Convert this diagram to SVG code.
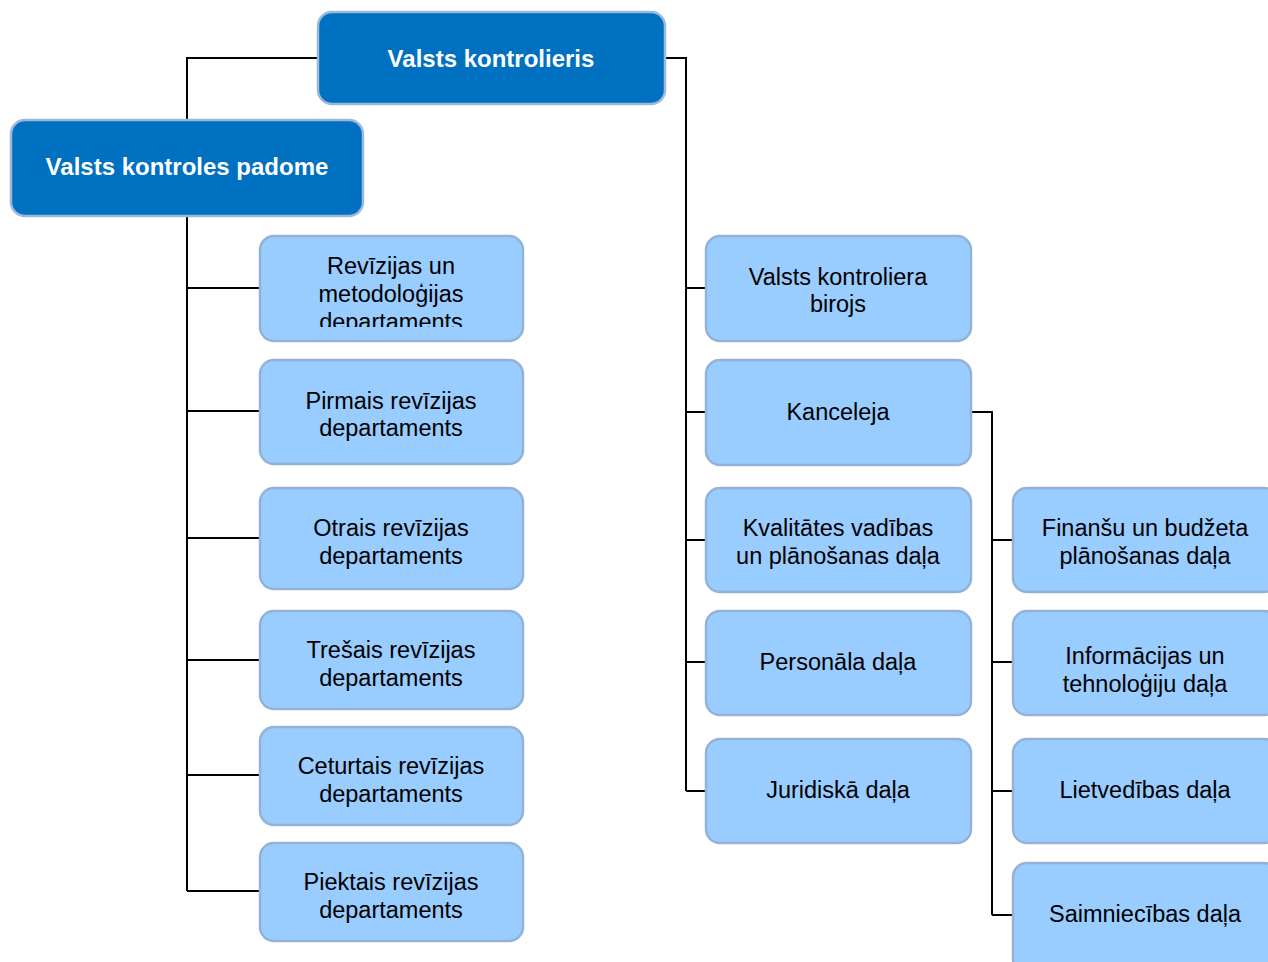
<svg xmlns="http://www.w3.org/2000/svg" width="1268" height="962" viewBox="0 0 1268 962">
<style>
.top{fill:#0070C0;stroke:#9DB8DA;stroke-width:2.5}
.box{fill:#99CCFF;stroke:#93B2D8;stroke-width:2.5}
.tt{font-family:"Liberation Sans",Arial,sans-serif;font-size:24px;font-weight:bold;fill:#FFFFFF;text-anchor:middle}
.t{font-family:"Liberation Sans",Arial,sans-serif;font-size:23.5px;fill:#000000;text-anchor:middle}
.c{fill:none;stroke:#000000;stroke-width:2}
</style>
<defs>
<clipPath id="clip1"><rect x="260" y="236" width="264" height="91"/></clipPath>
</defs>
<g id="connectors">
<path class="c" d="M318 58H187V120"/>
<path class="c" d="M187 216V891" stroke-width="2.5"/>
<path class="c" d="M187 288H260M187 411H260M187 538H260M187 660H260M187 775H260M187 891H260"/>
<path class="c" d="M665 58H686V791"/>
<path class="c" d="M686 288H706M686 412H706M686 540H706M686 662H706M686 791H706"/>
<path class="c" d="M971 412H992V915"/>
<path class="c" d="M992 540H1013M992 662H1013M992 791H1013M992 915H1013"/>
</g>
<g id="n-kontrolieris"><rect class="top" x="318" y="12" width="347" height="92" rx="14"/><text class="tt" x="491" y="67">Valsts kontrolieris</text></g>
<g id="n-padome"><rect class="top" x="11" y="120" width="352" height="96" rx="14"/><text class="tt" x="187" y="175">Valsts kontroles padome</text></g>
<g id="n-l1"><rect class="box" x="260" y="236" width="263" height="105" rx="14"/><g clip-path="url(#clip1)"><text class="t" x="391" y="274">Revīzijas un</text><text class="t" x="391" y="302">metodoloģijas</text><text class="t" x="391" y="330">departaments</text></g></g>
<g id="n-l2"><rect class="box" x="260" y="360" width="263" height="104" rx="14"/><text class="t" x="391" y="409">Pirmais revīzijas</text><text class="t" x="391" y="436">departaments</text></g>
<g id="n-l3"><rect class="box" x="260" y="488" width="263" height="101" rx="14"/><text class="t" x="391" y="536">Otrais revīzijas</text><text class="t" x="391" y="564">departaments</text></g>
<g id="n-l4"><rect class="box" x="260" y="611" width="263" height="98" rx="14"/><text class="t" x="391" y="658">Trešais revīzijas</text><text class="t" x="391" y="686">departaments</text></g>
<g id="n-l5"><rect class="box" x="260" y="727" width="263" height="98" rx="14"/><text class="t" x="391" y="774">Ceturtais revīzijas</text><text class="t" x="391" y="802">departaments</text></g>
<g id="n-l6"><rect class="box" x="260" y="843" width="263" height="98" rx="14"/><text class="t" x="391" y="890">Piektais revīzijas</text><text class="t" x="391" y="918">departaments</text></g>
<g id="n-m1"><rect class="box" x="706" y="236" width="265" height="105" rx="14"/><text class="t" x="838" y="285">Valsts kontroliera</text><text class="t" x="838" y="312">birojs</text></g>
<g id="n-m2"><rect class="box" x="706" y="360" width="265" height="105" rx="14"/><text class="t" x="838" y="420">Kanceleja</text></g>
<g id="n-m3"><rect class="box" x="706" y="488" width="265" height="104" rx="14"/><text class="t" x="838" y="536">Kvalitātes vadības</text><text class="t" x="838" y="564">un plānošanas daļa</text></g>
<g id="n-m4"><rect class="box" x="706" y="611" width="265" height="104" rx="14"/><text class="t" x="838" y="670">Personāla daļa</text></g>
<g id="n-m5"><rect class="box" x="706" y="739" width="265" height="104" rx="14"/><text class="t" x="838" y="798">Juridiskā daļa</text></g>
<g id="n-r1"><rect class="box" x="1013" y="488" width="265" height="104" rx="14"/><text class="t" x="1145" y="536">Finanšu un budžeta</text><text class="t" x="1145" y="564">plānošanas daļa</text></g>
<g id="n-r2"><rect class="box" x="1013" y="611" width="265" height="104" rx="14"/><text class="t" x="1145" y="664">Informācijas un</text><text class="t" x="1145" y="692">tehnoloģiju daļa</text></g>
<g id="n-r3"><rect class="box" x="1013" y="739" width="265" height="104" rx="14"/><text class="t" x="1145" y="798">Lietvedības daļa</text></g>
<g id="n-r4"><rect class="box" x="1013" y="863" width="265" height="110" rx="14"/><text class="t" x="1145" y="922">Saimniecības daļa</text></g>
</svg>
